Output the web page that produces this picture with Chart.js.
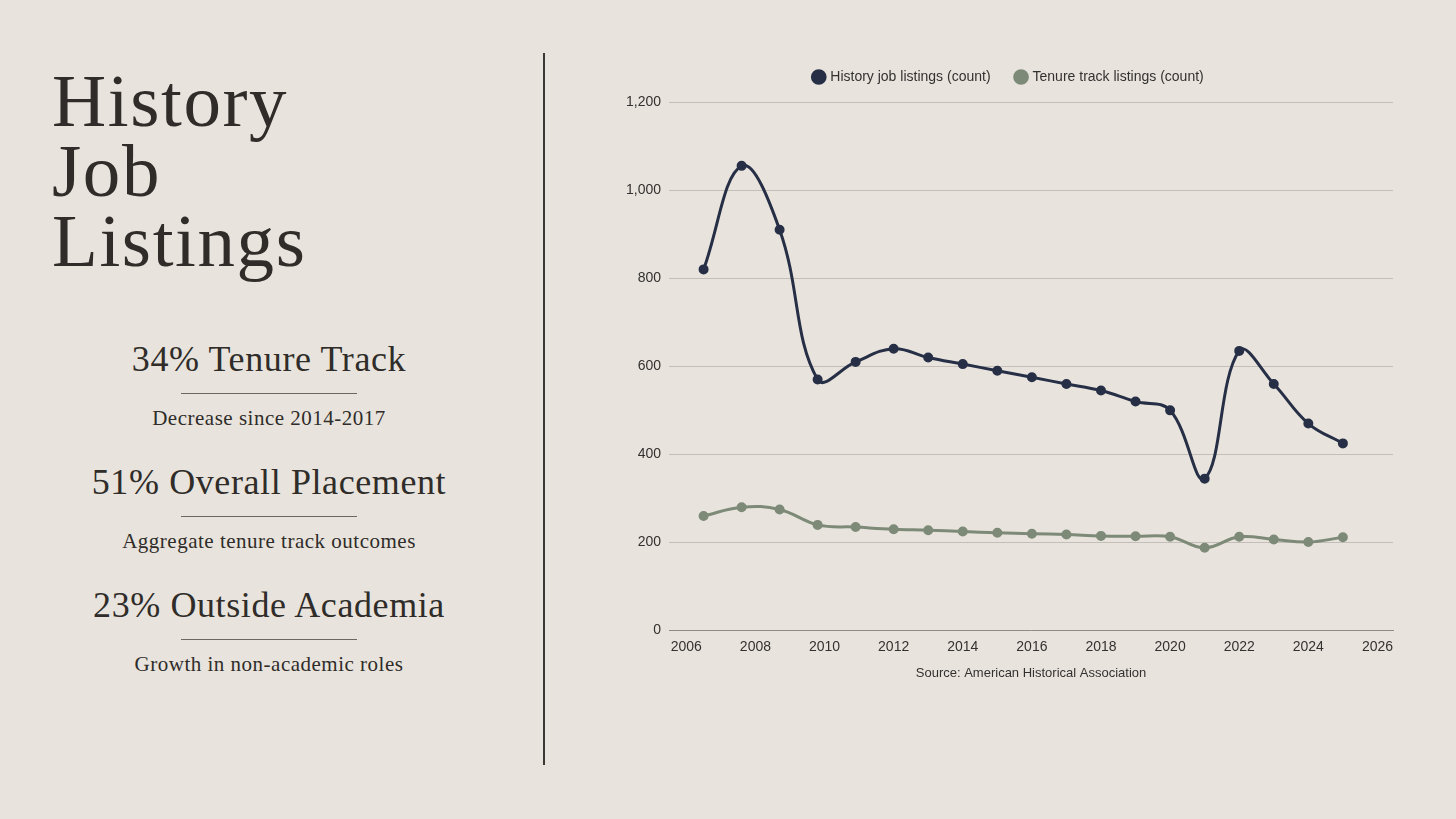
<!DOCTYPE html>
<html>
<head>
<meta charset="utf-8">
<script src="https://cdn.jsdelivr.net/npm/chart.js@4.4.1/dist/chart.umd.min.js"></script>
<style>
    html, body { margin: 0; padding: 0; }
    body { width: 1456px; height: 819px; background: #e8e4dd; position: relative; overflow: hidden; font-family: "Liberation Serif", serif; color: #2f2c29; }
    .title { position: absolute; left: 52px; top: 66px; font-size: 75px; line-height: 70px; letter-spacing: 1.6px; margin: 0; font-weight: normal; }
    .stats { position: absolute; left: 60px; width: 418px; top: 336px; text-align: center; }
    .stat { height: 123px; }
    .stat h2 { font-weight: normal; font-size: 36px; letter-spacing: 0.6px; margin: 0; line-height: 46px; }
    .stat hr { width: 176px; border: 0; border-top: 1px solid #6b6863; margin: 11px auto 11px auto; }
    .stat p { font-size: 21px; letter-spacing: 0.5px; margin: 0; line-height: 26px; }
    .divider { position: absolute; left: 543px; top: 53px; width: 2px; height: 712px; background: #3a3835; }
    .chart-box { position: absolute; left: 618px; top: 44px; width: 782px; height: 641px; }
</style>
</head>
<body>
<h1 class="title">History<br>Job<br>Listings</h1>
<div class="stats">
    <div class="stat"><h2>34% Tenure Track</h2><hr><p>Decrease since 2014-2017</p></div>
    <div class="stat"><h2>51% Overall Placement</h2><hr><p>Aggregate tenure track outcomes</p></div>
    <div class="stat"><h2>23% Outside Academia</h2><hr><p>Growth in non-academic roles</p></div>
</div>
<div class="divider"></div>
<div class="chart-box"><canvas id="chartJobs"></canvas></div>

<script>
const years = [2006.5, 2007.6, 2008.7, 2009.8, 2010.9, 2012, 2013, 2014, 2015, 2016, 2017, 2018, 2019, 2020, 2021, 2022, 2023, 2024, 2025];
const historyListings = [820, 1055, 910, 570, 610, 640, 620, 605, 590, 575, 560, 545, 520, 500, 345, 635, 560, 470, 425];
const tenureListings = [260, 280, 275, 240, 235, 230, 228, 225, 222, 220, 218, 215, 214, 213, 188, 213, 207, 201, 212];
const xTickYears = [2006, 2008, 2010, 2012, 2014, 2016, 2018, 2020, 2022, 2024, 2026];
const xRange = { min: 2005.5, max: 2026.45 };
const yTicks = { min: 0, max: 1200, step: 200 };

const NAVY = "#262f46";
const SAGE = "#7e8a78";
const INK = "#333130";

function points(vals) {
    return vals.map((v, i) => ({ x: years[i], y: v }));
}

// a bit more room between legend and plot
const legendGap = {
    id: "legendGap",
    beforeInit(chart) {
        const fit = chart.legend.fit;
        chart.legend.fit = function () {
            fit.bind(chart.legend)();
            this.height += 8;
        };
    },
};

document.addEventListener("DOMContentLoaded", () => {
    const c = document.getElementById("chartJobs");
    new Chart(c, {
        type: "line",
        data: {
            datasets: [
                {
                    label: "History job listings (count)", data: points(historyListings),
                    borderColor: NAVY, backgroundColor: NAVY, pointBackgroundColor: NAVY,
                    tension: 0.4, borderWidth: 3, pointRadius: 3.5, fill: false,
                },
                {
                    label: "Tenure track listings (count)", data: points(tenureListings),
                    borderColor: SAGE, backgroundColor: SAGE, pointBackgroundColor: SAGE,
                    tension: 0.4, borderWidth: 3, pointRadius: 3.5, fill: false,
                },
            ],
        },
        options: {
            responsive: true, maintainAspectRatio: false, animation: false,
            scales: {
                x: {
                    type: "linear", min: xRange.min, max: xRange.max,
                    afterBuildTicks: s => { s.ticks = xTickYears.map(v => ({ value: v })); },
                    ticks: { color: INK, font: { family: "Liberation Sans", size: 14 }, callback: v => String(v), padding: 0 },
                    grid: { display: false },
                    border: { display: true, color: "#8f8b85", width: 1 },
                    title: { display: true, text: "Source: American Historical Association", color: INK, font: { family: "Liberation Sans", size: 13 }, padding: { top: 10 } },
                },
                y: {
                    min: yTicks.min, max: yTicks.max,
                    ticks: { stepSize: yTicks.step, color: INK, font: { family: "Liberation Sans", size: 14 }, padding: 8 },
                    grid: { color: "#c3bfb8", drawTicks: false },
                    border: { display: false },
                },
            },
            plugins: {
                legend: {
                    position: "top",
                    labels: { usePointStyle: true, pointStyle: "circle", boxWidth: 9, boxHeight: 9, color: INK, font: { family: "Liberation Sans", size: 14 }, padding: 26 },
                },
                tooltip: { enabled: false },
            },
        },
        plugins: [legendGap],
    });
});
</script>
</body>
</html>
